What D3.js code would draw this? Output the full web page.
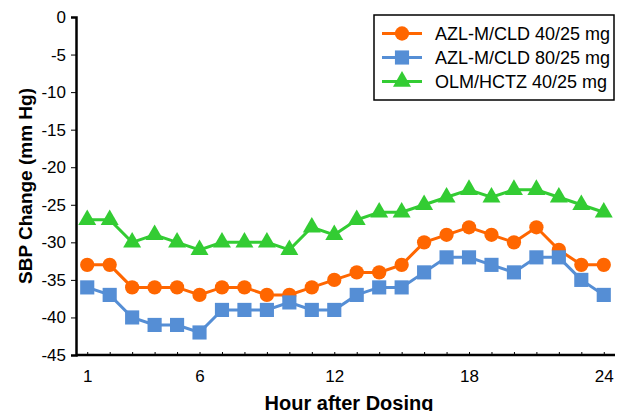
<!DOCTYPE html>
<html>
<head>
<meta charset="utf-8">
<script src="https://cdn.jsdelivr.net/npm/d3@7"></script>
<style>
  body { margin: 0; background: #fff; }
  text { font-family: "Liberation Sans", Arial, sans-serif; }
</style>
</head>
<body>
<script>
// hours after dosing
var hours = d3.range(1, 25);
var azl40 = [-33, -33, -36, -36, -36, -37, -36, -36, -37, -37, -36, -35, -34, -34, -33, -30, -29, -28, -29, -30, -28, -31, -33, -33];
var azl80 = [-36, -37, -40, -41, -41, -42, -39, -39, -39, -38, -39, -39, -37, -36, -36, -34, -32, -32, -33, -34, -32, -32, -35, -37];
var olm40 = [-27, -27, -30, -29, -30, -31, -30, -30, -30, -31, -28, -29, -27, -26, -26, -25, -24, -23, -24, -23, -23, -24, -25, -26];
var xTickLabels = [1, 6, 12, 18, 24];
var yTickLabels = d3.range(0, -50, -5);

var series = [
  { name: "AZL-M/CLD 40/25 mg", values: azl40, color: "#FF6600", symbol: d3.symbolCircle, size: 160 },
  { name: "AZL-M/CLD 80/25 mg", values: azl80, color: "#558ED5", symbol: d3.symbolSquare, size: 200 },
  { name: "OLM/HCTZ 40/25 mg", values: olm40, color: "#33CC33", symbol: d3.symbolTriangle, size: 140 }
];

var svg = d3.select("body")
.append("svg")
    .attr("width", 617)
    .attr("height", 411);

var x = d3.scaleLinear().domain([0.5, 24.5]).range([76, 615]);
var y = d3.scaleLinear().domain([-45, 0]).range([355, 17]);

// y axis (plain hyphen for minus, like the original)
var yAxis = svg.append("g")
    .attr("transform", "translate(76,0)")
    .call(d3.axisLeft(y).tickValues(yTickLabels).tickSize(5).tickPadding(5)
        .tickFormat(function(d) { return String(d); }));
yAxis.select(".domain").attr("stroke-width", 2.5);
yAxis.selectAll("text").attr("font-size", 17).attr("fill", "#000");

// x axis: minor ticks at every hour, labels at a few
var xAxis = svg.append("g")
    .attr("transform", "translate(0,355)")
    .call(d3.axisBottom(x).tickValues(hours).tickSize(-3).tickFormat(function(d) {
        return xTickLabels.indexOf(d) >= 0 ? d : "";
    }).tickPadding(15));
xAxis.select(".domain").attr("stroke-width", 2.5).attr("d", "M76,0H615");
xAxis.selectAll("text").attr("font-size", 17).attr("fill", "#000");

// lines and markers
var line = d3.line()
    .x(function(d, i) { return x(hours[i]); })
    .y(function(d) { return y(d); });

series.forEach(function(s) {
    svg.append("path")
        .datum(s.values)
        .attr("d", line)
        .attr("fill", "none")
        .attr("stroke", s.color)
        .attr("stroke-width", 3);
    svg.selectAll(null)
        .data(s.values)
        .enter()
        .append("path")
        .attr("d", d3.symbol().type(s.symbol).size(s.size))
        .attr("transform", function(d, i) { return "translate(" + x(hours[i]) + "," + y(d) + ")"; })
        .attr("fill", s.color);
});

// axis titles
svg.append("text")
    .attr("transform", "translate(32,186) rotate(-90)")
    .attr("text-anchor", "middle")
    .attr("font-size", 19)
    .attr("font-weight", "bold")
    .text("SBP Change (mm Hg)");

svg.append("text")
    .attr("x", 349)
    .attr("y", 410)
    .attr("text-anchor", "middle")
    .attr("font-size", 20)
    .attr("font-weight", "bold")
    .text("Hour after Dosing");

// legend
var legend = svg.append("g");
legend.append("rect")
    .attr("x", 374).attr("y", 15)
    .attr("width", 240).attr("height", 85)
    .attr("fill", "#fff")
    .attr("stroke", "#000")
    .attr("stroke-width", 1.5);

series.forEach(function(s, i) {
    var ly = 33.5 + i * 24;
    legend.append("line")
        .attr("x1", 382).attr("x2", 422)
        .attr("y1", ly).attr("y2", ly)
        .attr("stroke", s.color)
        .attr("stroke-width", 3);
    legend.append("path")
        .attr("d", d3.symbol().type(s.symbol).size(s.size))
        .attr("transform", "translate(402," + ly + ")")
        .attr("fill", s.color);
    legend.append("text")
        .attr("x", 435).attr("y", ly + 6.5)
        .attr("font-size", 18)
        .text(s.name);
});
</script>
</body>
</html>
